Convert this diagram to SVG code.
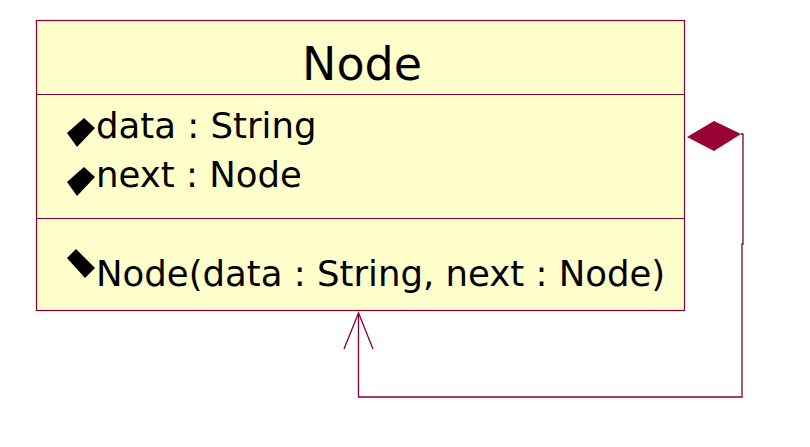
<svg xmlns="http://www.w3.org/2000/svg" width="810" height="447" viewBox="0 0 810 447">
<style>
.box{fill:#ffffcc;stroke:#800033;stroke-width:1.2}
.div{stroke:#800033;stroke-width:1.2}
.t{font-family:"DejaVu Sans",sans-serif;fill:#000;font-size:35.5px}
.conn{fill:none;stroke:#800033;stroke-width:1.3}
.ico{fill:#000}
</style>
<rect width="810" height="447" fill="#fff"/>
<g id="node-Node">
<rect class="box" x="36.5" y="20.5" width="648" height="290"/>
<line class="div" x1="36.5" y1="94.5" x2="684.5" y2="94.5"/>
<line class="div" x1="36.5" y1="218.5" x2="684.5" y2="218.5"/>
<text class="t" x="362" y="80" style="font-size:46px" text-anchor="middle">Node</text>
<path class="ico" d="M67,133 L84,118 L95,128 L77,147 Z"/>
<text class="t" x="96" y="138">data : String</text>
<path class="ico" d="M67,182 L84,167 L95,177 L77,196 Z"/>
<text class="t" x="96" y="187">next : Node</text>
<path class="ico" d="M67,258 L76,249 L95,268 L85,278 Z"/>
<text class="t" x="96" y="286">Node(data : String, next : Node)</text>
</g>
<g id="connectors">
<polyline class="conn" points="741,134 743,134 743,244 742,244 742,397 358.5,397 358.5,313"/>
<polyline class="conn" points="344,349 358.5,313 373,349"/>
<polygon points="687,137 714,121 741,134 714,151" fill="#990033"/>
</g>
</svg>
